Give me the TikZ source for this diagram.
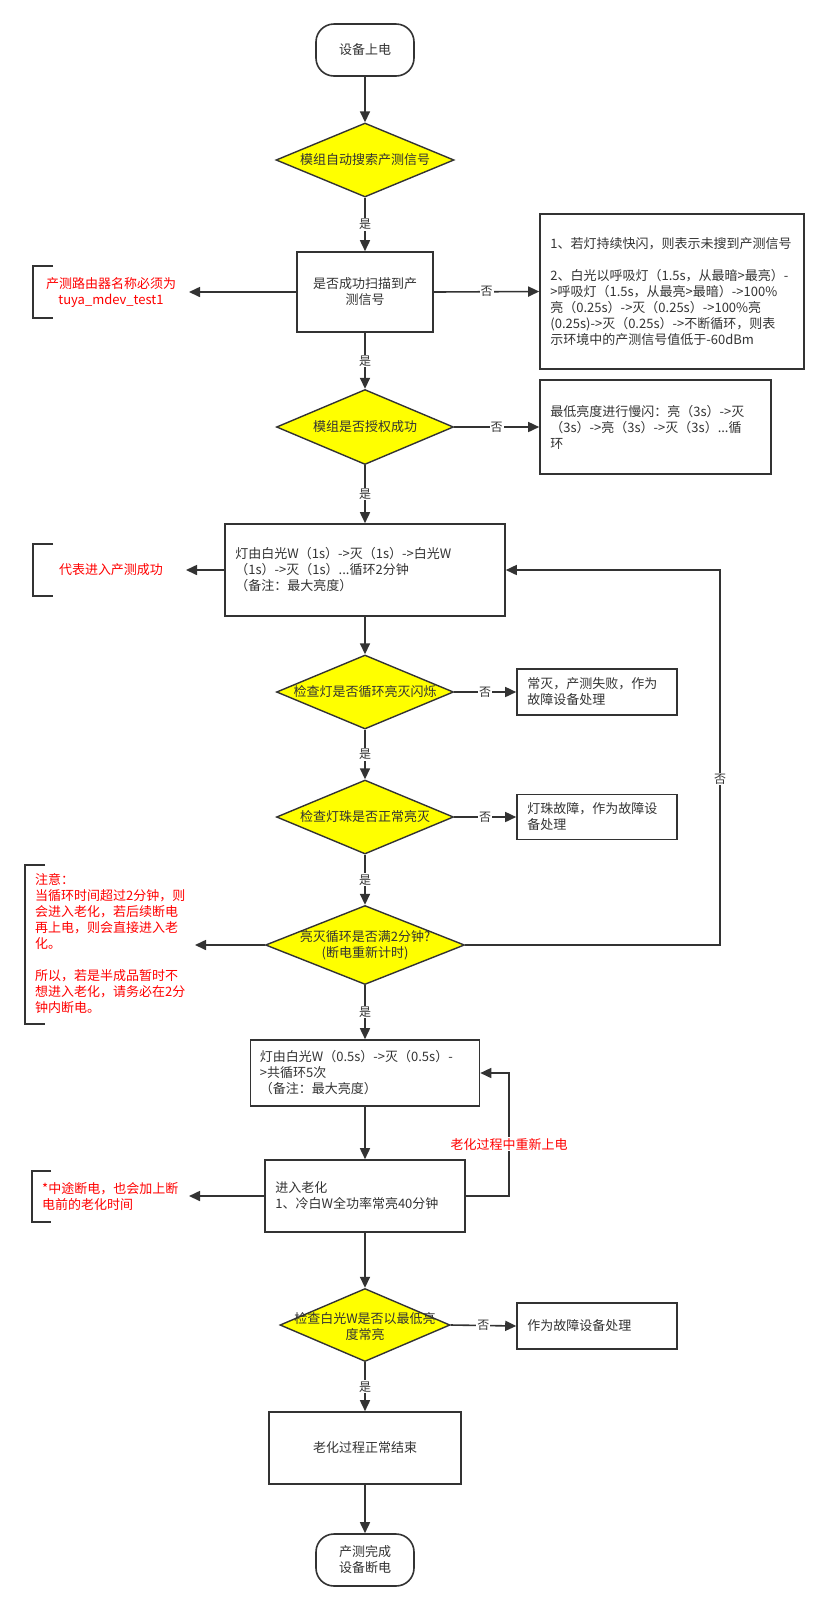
\documentclass[tikz,border=0pt]{standalone}
\usepackage{fontspec}
\setmainfont{Noto Sans CJK SC}
\usetikzlibrary{shapes.geometric,arrows.meta}
\definecolor{ln}{HTML}{333333}
\definecolor{fillY}{HTML}{FFFF00}
\definecolor{redT}{HTML}{FF0000}
\begin{document}
\begin{tikzpicture}[x=1pt,y=-1pt,
  every node/.style={font=\fontsize{13}{16}\selectfont, text=ln},
  conn/.style={draw=ln, line width=1.6pt, -{Triangle[length=11pt,width=10pt]}},
  boxn/.style={draw=ln, line width=1.6pt, rectangle, inner sep=0pt, fill=white},
  dia/.style={draw=ln, line width=1.4pt, diamond, fill=fillY, inner sep=0pt},
  term/.style={draw=ln, line width=1.6pt, rectangle, rounded corners=18pt, inner sep=0pt, align=center},
  lbl/.style={fill=white, inner sep=1pt, font=\fontsize{12}{14}\selectfont},
  txt/.style={align=left, anchor=west, inner sep=0pt},
  note/.style={text=redT, inner sep=0pt},
  brk/.style={draw=ln, line width=1.4pt},
]
\useasboundingbox (0,0) rectangle (829,1610);
\fill[white] (0,0) rectangle (829,1610);

% main column
\node[term, minimum width=98pt, minimum height=52pt] (start) at (365,50) {设备上电};
\node[dia, minimum width=178pt, minimum height=74pt] (d1) at (365,160) {};
\node (d1t) at (d1) {模组自动搜索产测信号};
\node[boxn, minimum width=136pt, minimum height=80pt, align=center] (b2) at (365,292) {是否成功扫描到产\\测信号};
\node[dia, minimum width=177pt, minimum height=75pt] (d2) at (365,427) {};
\node (d2t) at (d2) {模组是否授权成功};
\node[boxn, minimum width=280pt, minimum height=92pt] (b3) at (365,570) {};
\node[txt] (b3t) at ([xshift=11pt]b3.west) {灯由白光W（1s）->灭（1s）->白光W\\（1s）->灭（1s）...循环2分钟\\（备注：最大亮度）};
\node[dia, minimum width=177pt, minimum height=74pt] (d3) at (365,692) {};
\node (d3t) at (d3) {检查灯是否循环亮灭闪烁};
\node[dia, minimum width=177pt, minimum height=74pt] (d4) at (365,817) {};
\node (d4t) at (d4) {检查灯珠是否正常亮灭};
\node[dia, minimum width=199pt, minimum height=79pt] (d5) at (365,945) {};
\node[align=center] (d5t) at (d5) {亮灭循环是否满2分钟?\\(断电重新计时)};
\node[boxn, minimum width=229pt, minimum height=66pt] (b6) at (365,1073) {};
\node[txt] (b6t) at ([xshift=10pt]b6.west) {灯由白光W（0.5s）->灭（0.5s）-\\>共循环5次\\（备注：最大亮度）};
\node[boxn, minimum width=200pt, minimum height=72pt] (b7) at (365,1196) {};
\node[txt] (b7t) at ([xshift=11pt]b7.west) {进入老化\\1、冷白W全功率常亮40分钟};
\node[dia, minimum width=170pt, minimum height=73pt] (d7) at (365,1325) {};
\node[align=center] (d7t) at (365,1326.5) {检查白光W是否以最低亮\\度常亮};
\node[boxn, minimum width=192pt, minimum height=72pt] (b8) at (365,1448) {老化过程正常结束};
\node[term, minimum width=98pt, minimum height=52pt] (end) at (365,1560) {产测完成\\设备断电};

% right boxes
\node[boxn, minimum width=264pt, minimum height=155pt] (r1) at (672,291.5) {};
\node[txt] (r1t) at ([xshift=11pt]r1.west) {1、若灯持续快闪，则表示未搜到产测信号\\[16pt]2、白光以呼吸灯（1.5s，从最暗>最亮）-\\>呼吸灯（1.5s，从最亮>最暗）->100\%\\亮（0.25s）->灭（0.25s）->100\%亮\\(0.25s)->灭（0.25s）->不断循环，则表\\示环境中的产测信号值低于-60dBm};
\node[boxn, minimum width=231pt, minimum height=94pt] (r2) at (655.5,427) {};
\node[txt] (r2t) at ([xshift=11pt]r2.west) {最低亮度进行慢闪：亮（3s）->灭\\（3s）->亮（3s）->灭（3s）...循\\环};
\node[boxn, minimum width=160pt, minimum height=46pt] (r3) at (597,692) {};
\node[txt] (r3t) at ([xshift=11pt]r3.west) {常灭，产测失败，作为\\故障设备处理};
\node[boxn, minimum width=160pt, minimum height=45pt] (r4) at (597,817) {};
\node[txt] (r4t) at ([xshift=11pt]r4.west) {灯珠故障，作为故障设\\备处理};
\node[boxn, minimum width=160pt, minimum height=46pt] (r7) at (597,1326) {};
\node[txt] (r7t) at ([xshift=11pt]r7.west) {作为故障设备处理};

% red notes
\node[note, align=center] (n1) at (111,293) {产测路由器名称必须为\\tuya\_mdev\_test1};
\draw[brk] (53,266) -- (33,266) -- (33,318) -- (53,318);
\node[note] (n2) at (111,570) {代表进入产测成功};
\draw[brk] (53,544) -- (33,544) -- (33,596) -- (53,596);
\node[note, txt] (n3) at (35,944) {注意：\\当循环时间超过2分钟，则\\会进入老化，若后续断电\\再上电，则会直接进入老\\化。\\[16pt]所以，若是半成品暂时不\\想进入老化，请务必在2分\\钟内断电。};
\draw[brk] (45,865) -- (25,865) -- (25,1024) -- (45,1024);
\node[note, txt] (n4) at (42,1196) {*中途断电，也会加上断\\电前的老化时间};
\draw[brk] (51,1171) -- (32,1171) -- (32,1222) -- (51,1222);

\coordinate (n1a) at (189,292);
\coordinate (n2a) at (186,570);
\coordinate (n3a) at (195,945);
\coordinate (n4a) at (189,1196);

% connectors
\draw[conn] (start.south) -- (d1.north);
\draw[conn] (d1.south) -- node[lbl]{是} (b2.north);
\draw[conn] (b2.west) -- (n1a);
\draw[conn] (b2.east) -- node[lbl]{否} (r1.west);
\draw[conn] (b2.south) -- node[lbl]{是} (d2.north);
\draw[conn] (d2.east) -- node[lbl]{否} (r2.west);
\draw[conn] (d2.south) -- node[lbl]{是} (b3.north);
\draw[conn] (b3.west) -- (n2a);
\draw[conn] (b3.south) -- (d3.north);
\draw[conn] (d3.east) -- node[lbl]{否} (r3.west);
\draw[conn] (d3.south) -- node[lbl]{是} (d4.north);
\draw[conn] (d4.east) -- node[lbl]{否} (r4.west);
\draw[conn] (d4.south) -- node[lbl]{是} (d5.north);
\draw[conn] (d5.west) -- (n3a);
\coordinate (lpA) at (720,945);
\coordinate (lpB) at (720,570);
\draw[conn] (d5.east) -- (lpA) -- node[lbl, pos=0.443]{否} (lpB) -- (b3.east);
\draw[conn] (d5.south) -- node[lbl]{是} (b6.north);
\draw[conn] (b6.south) -- (b7.north);
\coordinate (lpC) at (509,1196);
\coordinate (lpD) at (509,1073);
\draw[conn] (b7.east) -- (lpC) -- node[lbl, text=redT, pos=0.42, font=\fontsize{13}{16}\selectfont]{老化过程中重新上电} (lpD) -- (b6.east);
\draw[conn] (b7.west) -- (n4a);
\draw[conn] (b7.south) -- (d7.north);
\draw[conn] (d7.east) -- node[lbl]{否} (r7.west);
\draw[conn] (d7.south) -- node[lbl]{是} (b8.north);
\draw[conn] (b8.south) -- (end.north);
\end{tikzpicture}
\end{document}
